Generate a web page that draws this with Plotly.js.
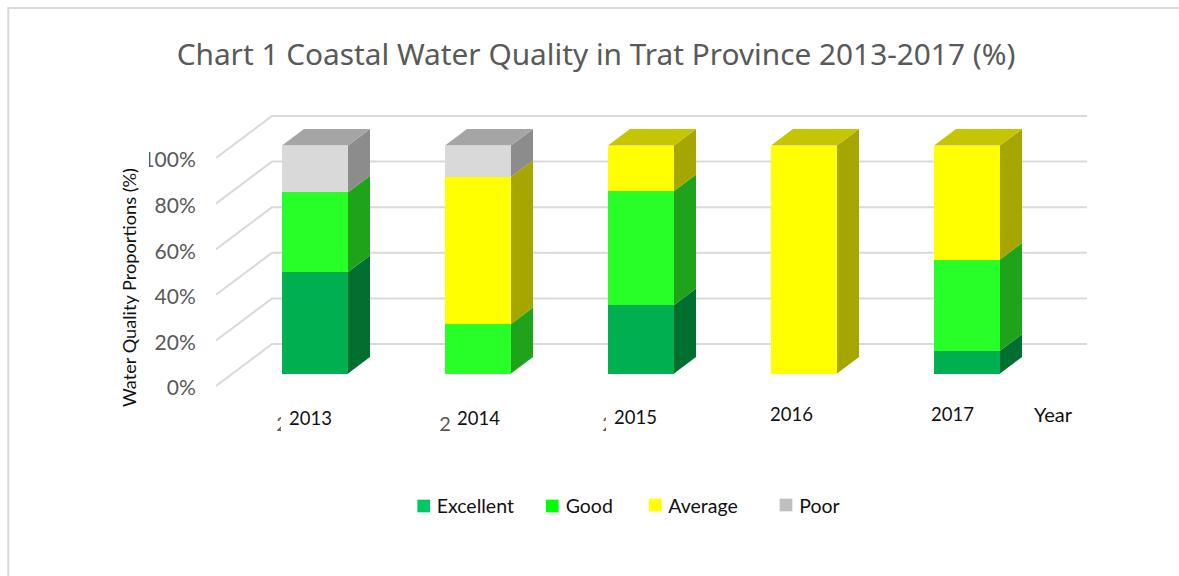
<!DOCTYPE html>
<html>
<head>
<meta charset="utf-8">
<script src="https://cdn.plot.ly/plotly-3.0.1.min.js"></script>
<style>html,body{margin:0;padding:0;background:#fff;overflow:hidden}#chart{width:1179px;height:576px}</style>
</head>
<body>
<div id="chart"></div>
<script>
const years = ["2013","2014","2015","2016","2017"];
const excellent = [44.5, 0, 30, 0, 10];
const good = [35, 21.7, 50, 0, 40];
const average = [0, 64.5, 20, 100, 50];
const poor = [20.5, 13.8, 0, 0, 0];
const yTicks = [0, 20, 40, 60, 80, 100];
const xFragments = ["2", "2", "2", "", ""];

const seriesNames = ["Excellent", "Good", "Average", "Poor"];
const seriesValues = [excellent, good, average, poor];
const frontColors = ["#00b050", "#28ff28", "#ffff00", "#d9d9d9"];
const sideColors = ["#006f30", "#1ea31a", "#a6a600", "#8c8c8c"];
const topColors = ["#008a40", "#20c020", "#c6c600", "#a5a5a5"];
const legendColors = ["#00c864", "#00ff00", "#ffff00", "#bfbfbf"];

// pixel scale of the layout
const catPx = 163, unitPx = 2.28, firstBarPx = 315, zeroPx = 386;
const plotL = 216, plotR = 1100, plotT = 45, plotB = 530;
const barBaseShift = (386 - 373.5) / unitPx;
const barWidth = 66 / catPx;
const barDx = 22 / catPx, barDv = 16.5 / unitPx;
const wallDx = 56 / catPx, wallDv = 42 / unitPx;
const xOf = px => (px - firstBarPx) / catPx;
const vOf = py => (zeroPx - py) / unitPx;
const paperX = px => (px - plotL) / (plotR - plotL);
const paperY = py => 1 - (py - plotT) / (plotB - plotT);

const traces = [];

// back wall and side wall gridlines
const gx = [], gy = [];
yTicks.forEach(t => {
  gx.push(xOf(plotL), xOf(plotL) + wallDx, xOf(1087), null);
  gy.push(t, t + wallDv, t + wallDv, null);
});
traces.push({x: gx, y: gy, mode: "lines", yaxis: "y", xaxis: "x", hoverinfo: "skip", showlegend: false,
  line: {color: "#d9d9d9", width: 2}});

// front faces: real stacked bars
seriesNames.forEach((name, s) => {
  traces.push({type: "bar", name, x: years.map((_, i) => i), y: seriesValues[s], yaxis: "y2", xaxis: "x",
    width: barWidth, marker: {color: frontColors[s], line: {width: 0}}, showlegend: false});
});

// side and top faces derived from the same values
years.forEach((_, i) => {
  let acc = 0, lastSeries = 0;
  const xr = i + barWidth / 2;
  seriesValues.forEach((vals, s) => {
    if (vals[i] > 0) {
      const b = acc, t = acc + vals[i];
      traces.push({x: [xr, xr + barDx, xr + barDx, xr, xr], y: [b, b + barDv, t + barDv, t, b],
        mode: "lines", fill: "toself", fillcolor: sideColors[s], line: {width: 0}, yaxis: "y2", xaxis: "x",
        hoverinfo: "skip", showlegend: false});
      acc = t; lastSeries = s;
    }
  });
  const xl = i - barWidth / 2;
  traces.push({x: [xl, xr, xr + barDx, xl + barDx, xl], y: [acc, acc, acc + barDv, acc + barDv, acc],
    mode: "lines", fill: "toself", fillcolor: topColors[lastSeries], line: {width: 0}, yaxis: "y2", xaxis: "x",
    hoverinfo: "skip", showlegend: false});
});

// legend row
const legendSwatchPx = [423.7, 552.3, 655.3, 786];
const legendSwatchPy = [506, 506, 505, 505];
const legendTextPx = [436.7, 565.7, 668.3, 799.3];
seriesNames.forEach((name, s) => {
  traces.push({x: [xOf(legendSwatchPx[s])], y: [vOf(legendSwatchPy[s])], mode: "markers",
    yaxis: "y", xaxis: "x", hoverinfo: "skip", showlegend: false,
    marker: {symbol: "square", size: 12.7, color: legendColors[s], line: {width: 0}}});
  traces.push({x: [xOf(legendTextPx[s])], y: [vOf(508.5)], text: [name], mode: "text", textposition: "middle right",
    yaxis: "y", xaxis: "x", hoverinfo: "skip", showlegend: false,
    textfont: {family: "Lato, sans-serif", size: 19.5, color: "#111111"}});
});

// category labels placed by hand in the original
const labelPx = [310, 478, 635, 791, 952];
const labelPy = [418, 418, 417, 414, 414];
const annotations = years.map((y, i) => ({xref: "paper", yref: "paper", text: y, showarrow: false,
  x: paperX(labelPx[i]), y: paperY(labelPy[i]), xanchor: "center", yanchor: "middle",
  font: {family: "Lato, sans-serif", size: 18.5, color: "#111111"}}));
annotations.push({xref: "paper", yref: "paper", text: "Year", showarrow: false, x: paperX(1053.5), y: paperY(414),
  xanchor: "center", yanchor: "middle", font: {family: "Lato, sans-serif", size: 20, color: "#111111"}});

// white boxes that clip the stray axis glyphs and the first digit of 100%
const whiteBox = (x0, x1, y0, y1) => ({type: "rect", xref: "paper", yref: "paper", layer: "above",
  x0: paperX(x0), x1: paperX(x1), y0: paperY(y1), y1: paperY(y0), fillcolor: "#ffffff", line: {width: 0}});

const frame = {type: "path", xref: "paper", yref: "paper", layer: "below",
  path: `M ${paperX(8.3)} ${paperY(576)} L ${paperX(8.3)} ${paperY(8)} L ${paperX(1179)} ${paperY(8)}`,
  line: {color: "#d9d9d9", width: 2}};

const layout = {
  width: 1179, height: 576,
  margin: {l: plotL, r: 1179 - plotR, t: plotT, b: 576 - plotB, pad: 0},
  paper_bgcolor: "#ffffff", plot_bgcolor: "rgba(0,0,0,0)",
  barmode: "stack", showlegend: false,
  title: {text: "Chart 1 Coastal Water Quality in Trat Province 2013-2017 (%)", x: 596 / 1179, xanchor: "center",
    y: 1 - 55 / 576, yanchor: "middle", font: {family: "Noto Sans, sans-serif", size: 29.8, color: "#595959"}},
  xaxis: {range: [xOf(plotL), xOf(plotR)], tickmode: "array", tickvals: years.map((_, i) => i - 33 / catPx), ticktext: xFragments,
    showgrid: false, zeroline: false, showline: false, ticks: "outside", ticklen: 10, tickcolor: "rgba(0,0,0,0)",
    anchor: "free", position: paperY(396),
    tickfont: {family: "Lato, sans-serif", size: 20, color: "#595959"}},
  yaxis: {range: [vOf(plotB), vOf(plotT)], tickmode: "array", tickvals: yTicks.map(t => t - 2 / unitPx), ticktext: yTicks.map(t => t + "%"),
    showgrid: false, zeroline: false, showline: false, ticks: "outside", ticklen: 15, tickcolor: "rgba(0,0,0,0)",
    tickfont: {family: "Lato, sans-serif", size: 21, color: "#595959"},
    title: {text: "Water Quality Proportions (%)", font: {family: "Lato, sans-serif", size: 18.2, color: "#111111"}}},
  yaxis2: {overlaying: "y", range: [vOf(plotB) - barBaseShift, vOf(plotT) - barBaseShift], visible: false},
  shapes: [frame,
    whiteBox(135, 149, 146, 170),
    whiteBox(281, 295, 410, 436),
    whiteBox(606, 620, 410, 436)],
  annotations
};

Plotly.newPlot("chart", traces, layout, {displayModeBar: false, staticPlot: true});
</script>
</body>
</html>
